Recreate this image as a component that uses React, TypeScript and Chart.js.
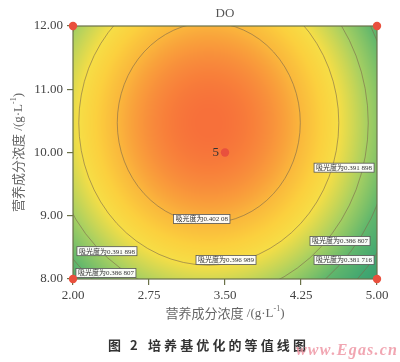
import React, { useEffect, useRef } from "react";
import { Chart, registerables } from "chart.js";

Chart.register(...registerables);

// ---- data ----
const chartTitle = "DO";
const xTicks = [2.0, 2.75, 3.5, 4.25, 5.0];
const yTicks = [8, 9, 10, 11, 12];
const axisTitleCjk = "营养成分浓度";
const axisTitleUnit = " /(g·L";
const captionLead = ["图", "2"];
const captionText = "培养基优化的等值线图";
const watermark = "www.Egas.cn";

// design points (factorial corners + centre run)
const designX = [2, 5, 2, 5, 3.5];
const designY = [12, 12, 8, 8, 10];
const centreRunLabel = "5";

// fitted quadratic response surface (absorbance)
const surfacePeak = 0.40708;
const surfaceCentre = [3.34, 10.47];
const surfaceCurvature = [0.00613, 0.00199];

// contour levels
const contourLevels = [0.381716, 0.386807, 0.391898, 0.396989, 0.40208];

// contour labels (level, anchor in data units)
const labelLevels = [0.391898, 0.40208, 0.391898, 0.386807, 0.396989, 0.386807, 0.381716];
const labelX = [4.675, 3.27, 2.335, 2.325, 3.51, 4.635, 4.675];
const labelY = [9.76, 8.95, 8.44, 8.095, 8.3, 8.6, 8.3];

// colour ramp (value -> rgb)
const rampValues = [0.374, 0.382, 0.387, 0.392, 0.397, 0.3995, 0.402, 0.407];
const rampColors = [
  [45, 150, 112],
  [68, 168, 112],
  [98, 183, 108],
  [165, 207, 98],
  [246, 222, 70],
  [251, 208, 62],
  [250, 184, 60],
  [247, 112, 58],
];

function surface(x: number, y: number) {
  const dx = x - surfaceCentre[0];
  const dy = y - surfaceCentre[1];
  return surfacePeak - surfaceCurvature[0] * dx * dx - surfaceCurvature[1] * dy * dy;
}

function colorFor(v: number) {
  if (v <= rampValues[0]) return rampColors[0];
  const n = rampValues.length;
  if (v >= rampValues[n - 1]) return rampColors[n - 1];
  for (let i = 0; i < n - 1; i++) {
    if (v <= rampValues[i + 1]) {
      const t = (v - rampValues[i]) / (rampValues[i + 1] - rampValues[i]);
      const a = rampColors[i], b = rampColors[i + 1];
      return [a[0] + (b[0] - a[0]) * t, a[1] + (b[1] - a[1]) * t, a[2] + (b[2] - a[2]) * t];
    }
  }
  return rampColors[n - 1];
}

function fmtLevel(v: number) {
  const s = String(v);
  const dot = s.indexOf(".");
  const head = s.slice(0, dot + 4);
  const tail = s.slice(dot + 4);
  return "吸光度为" + head + (tail ? " " + tail : "");
}

const AXIS_COLOR = "#6a7148";
const SERIF = "'Liberation Serif', 'DejaVu Serif', serif";
const CJK = "'Noto Sans CJK SC', sans-serif";

const heatPlugin = {
  id: "heat",
  beforeDatasetsDraw(chart: any) {
    const { ctx, chartArea: a, scales } = chart;
    const xs = scales.x, ys = scales.y;
    const w = Math.round(a.right - a.left);
    const h = Math.round(a.bottom - a.top);
    const off = document.createElement("canvas");
    off.width = w;
    off.height = h;
    const octx = off.getContext("2d")!;
    const img = octx.createImageData(w, h);
    for (let j = 0; j < h; j++) {
      const yv = ys.getValueForPixel(a.top + j + 0.5);
      for (let i = 0; i < w; i++) {
        const xv = xs.getValueForPixel(a.left + i + 0.5);
        const c = colorFor(surface(xv, yv));
        const k = (j * w + i) * 4;
        img.data[k] = c[0];
        img.data[k + 1] = c[1];
        img.data[k + 2] = c[2];
        img.data[k + 3] = 255;
      }
    }
    octx.putImageData(img, 0, 0);
    ctx.drawImage(off, a.left, a.top);

    // contours
    ctx.save();
    ctx.beginPath();
    ctx.rect(a.left, a.top, a.right - a.left, a.bottom - a.top);
    ctx.clip();
    ctx.strokeStyle = "rgba(125,105,75,0.6)";
    ctx.lineWidth = 1;
    const cx = xs.getPixelForValue(surfaceCentre[0]);
    const cy = ys.getPixelForValue(surfaceCentre[1]);
    contourLevels.forEach((lv) => {
      const d = surfacePeak - lv;
      const rxv = Math.sqrt(d / surfaceCurvature[0]);
      const ryv = Math.sqrt(d / surfaceCurvature[1]);
      const rx = Math.abs(xs.getPixelForValue(surfaceCentre[0] + rxv) - cx);
      const ry = Math.abs(ys.getPixelForValue(surfaceCentre[1] + ryv) - cy);
      ctx.beginPath();
      ctx.ellipse(cx, cy, rx, ry, 0, 0, Math.PI * 2);
      ctx.stroke();
    });
    ctx.restore();

    // frame
    ctx.save();
    ctx.strokeStyle = AXIS_COLOR;
    ctx.lineWidth = 1.2;
    ctx.strokeRect(a.left, a.top, a.right - a.left, a.bottom - a.top);
    ctx.restore();

    // contour labels
    ctx.save();
    ctx.font = `7px ${SERIF}, ${CJK}`;
    ctx.textAlign = "center";
    ctx.textBaseline = "middle";
    labelLevels.forEach((lv, i) => {
      const px = xs.getPixelForValue(labelX[i]);
      const py = ys.getPixelForValue(labelY[i]);
      const t = fmtLevel(lv);
      const tw = ctx.measureText(t).width;
      const bw = tw + 4, bh = 9;
      ctx.fillStyle = "rgba(255,255,255,0.95)";
      ctx.fillRect(px - bw / 2, py - bh / 2, bw, bh);
      ctx.strokeStyle = "#555";
      ctx.lineWidth = 0.8;
      ctx.strokeRect(px - bw / 2, py - bh / 2, bw, bh);
      ctx.fillStyle = "#333";
      ctx.fillText(t, px, py + 0.5);
    });
    ctx.restore();
  },
  afterDatasetsDraw(chart: any) {
    const { ctx, scales } = chart;
    const px = scales.x.getPixelForValue(designX[4]);
    const py = scales.y.getPixelForValue(designY[4]);
    ctx.save();
    ctx.font = `13px ${SERIF}`;
    ctx.fillStyle = "#333";
    ctx.textAlign = "right";
    ctx.textBaseline = "middle";
    ctx.fillText(centreRunLabel, px - 6, py + 0.5);
    ctx.restore();
  },
};

function drawUnitTitle(ctx: CanvasRenderingContext2D, x: number, y: number) {
  const fCjk = `13px ${CJK}`;
  const fSer = `13px ${SERIF}`;
  const fSup = `8px ${SERIF}`;
  ctx.font = fCjk;
  const w1 = ctx.measureText(axisTitleCjk).width;
  ctx.font = fSer;
  const w2 = ctx.measureText(axisTitleUnit).width;
  ctx.font = fSup;
  const w3 = ctx.measureText("-1").width;
  ctx.font = fSer;
  const w4 = ctx.measureText(")").width;
  let sx = x - (w1 + w2 + w3 + w4) / 2;
  ctx.textAlign = "left";
  ctx.textBaseline = "middle";
  ctx.font = fCjk;
  ctx.fillText(axisTitleCjk, sx, y);
  sx += w1;
  ctx.font = fSer;
  ctx.fillText(axisTitleUnit, sx, y + 1);
  sx += w2;
  ctx.font = fSup;
  ctx.fillText("-1", sx, y - 4);
  sx += w3;
  ctx.font = fSer;
  ctx.fillText(")", sx, y + 1);
}

const textPlugin = {
  id: "texts",
  afterDraw(chart: any) {
    const { ctx, chartArea: a } = chart;
    ctx.save();
    ctx.fillStyle = "#555";
    ctx.font = `13px ${SERIF}`;
    ctx.textAlign = "center";
    ctx.textBaseline = "middle";
    ctx.fillText(chartTitle, (a.left + a.right) / 2, 14);

    ctx.fillStyle = "#666";
    drawUnitTitle(ctx, (a.left + a.right) / 2, 313);

    ctx.save();
    ctx.translate(18, (a.top + a.bottom) / 2);
    ctx.rotate(-Math.PI / 2);
    drawUnitTitle(ctx, 0, 0);
    ctx.restore();

    // caption
    ctx.fillStyle = "#333";
    ctx.font = `bold 13px ${CJK}`;
    ctx.textAlign = "left";
    ctx.textBaseline = "middle";
    ctx.fillText(captionLead[0], 108, 345);
    ctx.fillText(captionLead[1], 130, 345);
    Array.from(captionText).forEach((ch, i) => {
      ctx.fillText(ch, 148 + i * 16.1, 345);
    });

    ctx.fillStyle = "rgba(238,150,165,0.85)";
    ctx.font = `italic bold 16px ${SERIF}`;
    ctx.textAlign = "left";
    const chars = Array.from(watermark);
    let wx = 296;
    chars.forEach((ch) => {
      ctx.fillText(ch, wx, 351);
      wx += ctx.measureText(ch).width + 1.2;
    });
    ctx.restore();
  },
};

export default function App() {
  const ref = useRef<HTMLCanvasElement | null>(null);
  useEffect(() => {
    if (!ref.current) return;
    const chart = new Chart(ref.current, {
      type: "scatter",
      data: {
        datasets: [
          {
            data: designX.map((x, i) => ({ x, y: designY[i] })),
            pointRadius: 4.2,
            pointHoverRadius: 4.2,
            backgroundColor: "#e9503d",
            borderWidth: 0,
            clip: false as any,
          },
        ],
      },
      options: {
        responsive: false,
        animation: false,
        layout: { padding: { left: 0, right: 23, top: 26, bottom: 0 } },
        plugins: {
          legend: { display: false },
          tooltip: { enabled: false },
          title: { display: false },
        },
        scales: {
          x: {
            type: "linear",
            min: 2,
            max: 5,
            afterBuildTicks: (s: any) => {
              s.ticks = xTicks.map((v) => ({ value: v }));
            },
            afterFit: (s: any) => {
              s.height = 83;
            },
            ticks: {
              callback: (v: any) => Number(v).toFixed(2),
              font: { family: SERIF, size: 13 },
              color: "#444",
              padding: 3,
              maxRotation: 0,
              autoSkip: false,
            },
            grid: { drawOnChartArea: false, tickLength: 6, color: AXIS_COLOR, lineWidth: 1.2 },
            border: { display: false },
          },
          y: {
            type: "linear",
            min: 8,
            max: 12,
            afterBuildTicks: (s: any) => {
              s.ticks = yTicks.map((v) => ({ value: v }));
            },
            afterFit: (s: any) => {
              s.width = 73;
            },
            ticks: {
              callback: (v: any) => Number(v).toFixed(2),
              font: { family: SERIF, size: 13 },
              color: "#444",
              padding: 4,
              autoSkip: false,
            },
            grid: { drawOnChartArea: false, tickLength: 6, color: AXIS_COLOR, lineWidth: 1.2 },
            border: { display: false },
          },
        },
      },
      plugins: [heatPlugin, textPlugin],
    } as any);
    return () => chart.destroy();
  }, []);
  return (
    <div style={{ position: "absolute", left: 0, top: 0, width: 400, height: 362, background: "#fff" }}>
      <canvas ref={ref} width={400} height={362} style={{ display: "block" }} />
    </div>
  );
}
